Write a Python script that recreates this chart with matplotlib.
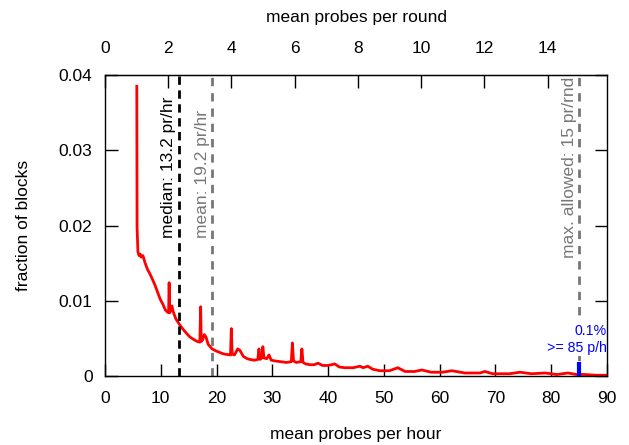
import numpy as np
import matplotlib
matplotlib.use('Agg')
import matplotlib.pyplot as plt
from matplotlib.ticker import FuncFormatter

plt.rcParams['font.family'] = ['Liberation Sans', 'DejaVu Sans']
plt.rcParams['font.size'] = 12.5

# histogram of mean probes per hour
rate = [5.7, 5.75, 5.9, 6.1, 6.3, 6.5, 6.8, 7.2, 7.6, 8.1, 8.6, 9.0, 9.5, 9.9,
        10.4, 10.8, 11.2, 11.4, 11.5, 11.6, 11.8, 12.0, 12.2, 12.7, 13.4, 14.0,
        14.7, 15.2, 15.8, 16.5, 17.0, 17.15, 17.25, 17.5, 17.8, 18.1, 18.5,
        19.2, 20.0, 21.0, 21.5, 22.5, 22.65, 22.8, 23.2, 23.8, 24.2, 24.8,
        25.5, 26.0, 26.8, 27.4, 27.6, 27.8, 28.1, 28.3, 28.5, 29.0, 29.4,
        29.8, 30.5, 31.5, 32.5, 33.4, 33.6, 33.8, 34.3, 35.1, 35.3, 35.5,
        36.0, 36.7, 37.5, 38.2, 39.0, 40.0, 41.2, 42.0, 43.0, 44.5, 45.7,
        46.3, 47.1, 48.0, 49.3, 51.0, 52.5, 53.8, 55.5, 56.8, 58.5, 60.5,
        62.2, 64.5, 67.2, 68.1, 69.5, 70.8, 72.5, 74.4, 76.5, 78.9, 81.0,
        83.0, 84.5, 86.0, 88.0, 90.0]
frac = [0.0385, 0.0198, 0.0165, 0.0160, 0.0162, 0.0158, 0.0160, 0.0150,
        0.0142, 0.0135, 0.0127, 0.0120, 0.0110, 0.0102, 0.0095, 0.0088,
        0.0085, 0.0084, 0.0124, 0.0084, 0.0088, 0.0093, 0.0086, 0.0076,
        0.0068, 0.0062, 0.0056, 0.0052, 0.0049, 0.0046, 0.0045, 0.0092,
        0.0046, 0.0048, 0.0055, 0.0052, 0.0042, 0.0036, 0.0033, 0.0030,
        0.0029, 0.0028, 0.0063, 0.0029, 0.0028, 0.0036, 0.0034, 0.0026,
        0.0023, 0.0022, 0.0021, 0.0022, 0.0036, 0.0022, 0.0024, 0.0039,
        0.0024, 0.0023, 0.0028, 0.0021, 0.0020, 0.0019, 0.0018, 0.0019,
        0.0044, 0.0020, 0.0018, 0.0019, 0.0036, 0.0018, 0.0016, 0.0015,
        0.0015, 0.0017, 0.0014, 0.0014, 0.0016, 0.0012, 0.0011, 0.0011,
        0.0013, 0.0011, 0.0013, 0.0009, 0.0007, 0.0007, 0.0011, 0.0006,
        0.0006, 0.0008, 0.0005, 0.0005, 0.0007, 0.0004, 0.0004, 0.0006,
        0.0003, 0.0003, 0.0003, 0.0005, 0.0003, 0.0004, 0.0002, 0.0004,
        0.0002, 0.0002, 0.0001, 0.0001]

median_rate = 13.2
mean_rate = 19.2
max_rounds = 15
tail_rate = 85
tail_frac = 0.0018
per_round = 85.0 / 15  # probes/hour per probe/round

fig = plt.figure(figsize=(6.29, 4.45), dpi=100)
ax = fig.add_axes([105/629, 1 - 376/445, 502/629, 301/445])

ax.plot(rate, frac, color='red', lw=2)
ax.plot([tail_rate, tail_rate], [0, tail_frac], color='blue', lw=3,
        solid_capstyle='butt', zorder=4)

ax.axvline(median_rate, color='black', lw=2, ls=(0, (3, 2)))
ax.axvline(mean_rate, color='#777777', lw=2, ls=(0, (3, 2.5)))
ax.axvline(max_rounds * per_round, color='#777777', lw=2, ls=(0, (3, 2.5)))

ax.text(11.3, 0.0184, 'median: %.1f pr/hr' % median_rate, rotation=90,
        ha='center', va='bottom', color='black')
ax.text(17.4, 0.0184, 'mean: %.1f pr/hr' % mean_rate, rotation=90,
        ha='center', va='bottom', color='#777777')
ax.text(83.3, 0.0157, 'max. allowed: %d pr/rnd' % max_rounds, rotation=90,
        ha='center', va='bottom', color='#777777')
ax.text(89.9, 0.0028, '0.1%\n>= 85 p/h', ha='right', va='bottom',
        color='blue', fontsize=10.2, multialignment='right', linespacing=1.3,
        zorder=2.2, bbox=dict(facecolor='white', edgecolor='none', pad=1))

ax.set_xlim(0, 90)
ax.set_ylim(0, 0.04)
ax.set_xticks(np.arange(0, 91, 10))
ax.set_yticks([0, 0.01, 0.02, 0.03, 0.04])
ax.yaxis.set_major_formatter(FuncFormatter(lambda v, p: '%g' % v))
ax.tick_params(direction='in', length=9, width=1, pad=9)
ax.tick_params(axis='x', pad=11)
ax.tick_params(axis='y', right=True)
ax.set_xlabel('mean probes per hour', labelpad=15)
ax.set_ylabel('fraction of blocks', labelpad=20)

top = ax.secondary_xaxis('top', functions=(lambda x: x / per_round,
                                           lambda x: x * per_round))
top.set_xticks(np.arange(0, 15, 2))
top.tick_params(direction='in', length=9, width=1, pad=14)
top.set_xlabel('mean probes per round', labelpad=13)

for s in ax.spines.values():
    s.set_linewidth(1)

fig.savefig('out.png', dpi=100)
